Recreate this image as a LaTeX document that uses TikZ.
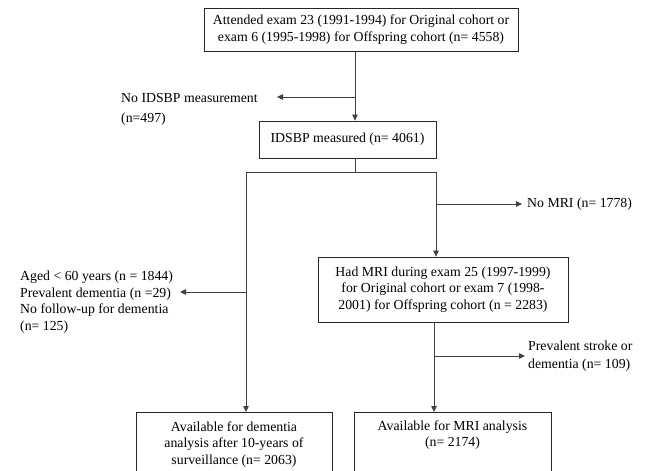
\documentclass[tikz,border=0pt]{standalone}
\usepackage{fontspec}
\setmainfont{Liberation Serif}
\usetikzlibrary{arrows.meta}
\tikzset{
  box/.style={draw=black!85, line width=0.8bp, align=center, inner sep=0pt, font=\fontsize{13.8bp}{16.5bp}\selectfont},
  lbl/.style={align=left, inner sep=0pt, anchor=west, font=\fontsize{13.8bp}{16.5bp}\selectfont},
  conn/.style={draw=black!75, line width=0.8bp},
  arr/.style={conn, -{Triangle[length=6bp,width=5.5bp]}},
}
\begin{document}
\begin{tikzpicture}[x=1bp,y=-1bp]
\useasboundingbox (0,0) rectangle (655,471);
\clip (0,0) rectangle (655,471);
% boxes
\node[box, minimum width=314bp, minimum height=43bp] (top) at (361,29.5)
  {Attended exam 23 (1991-1994) for Original cohort or\\exam 6 (1995-1998) for Offspring cohort (n= 4558)};
\node[box, minimum width=177bp, minimum height=37bp] (idsbp) at (347.5,139.5)
  {IDSBP measured (n= 4061)};
\node[box, minimum width=250bp, minimum height=65bp] (mri) at (443,289.5)
  {Had MRI during exam 25 (1997-1999)\\for Original cohort or exam 7 (1998-\\2001) for Offspring cohort (n = 2283)};
\node[box, anchor=north, minimum width=196bp, minimum height=64bp] (dem) at (234,412)
  {Available for dementia\\analysis after 10-years of\\surveillance (n= 2063)};
\node[box, anchor=north, minimum width=197bp, minimum height=64bp] (mrian) at (452.5,412)
  {Available for MRI analysis\\(n= 2174)\\\strut};
% labels
\node[lbl, anchor=north west] (noid) at (121,93)
  {No IDSBP measurement\\[3.5bp](n=497)};
\node[lbl] (nomri) at (527,204) {No MRI (n= 1778)};
\node[lbl] (prev) at (528,356) {Prevalent stroke or\\[1bp]dementia (n= 109)};
\node[lbl, anchor=north west] (aged) at (20,271)
  {Aged < 60 years (n = 1844)\\Prevalent dementia (n =29)\\No follow-up for dementia\\(n= 125)};
% junctions
\coordinate (j1) at (355,97);
\coordinate (t1) at (277,97);
\coordinate (s) at (355,172);
\coordinate (sl) at (246,172);
\coordinate (sr) at (436,172);
\coordinate (j2) at (436,204);
\coordinate (j3) at (246,292);
\coordinate (t3) at (180,292);
\coordinate (j4) at (434,356);
% connectors
\draw[arr] (top.south -| j1) -- (idsbp.north -| j1);
\draw[arr] (j1) -- (t1);
\draw[conn] (idsbp.south -| s) -- (s);
\draw[conn] (sl) -- (sr);
\draw[arr] (sr) -- (mri.north -| sr);
\draw[arr] (j2) -- ([xshift=-5bp]nomri.west);
\draw[arr] (sl) -- (dem.north -| sl);
\draw[arr] (j3) -- (t3);
\draw[arr] (mri.south -| j4) -- (mrian.north -| j4);
\draw[arr] (j4) -- ([xshift=-3bp]prev.west);
\end{tikzpicture}
\end{document}
